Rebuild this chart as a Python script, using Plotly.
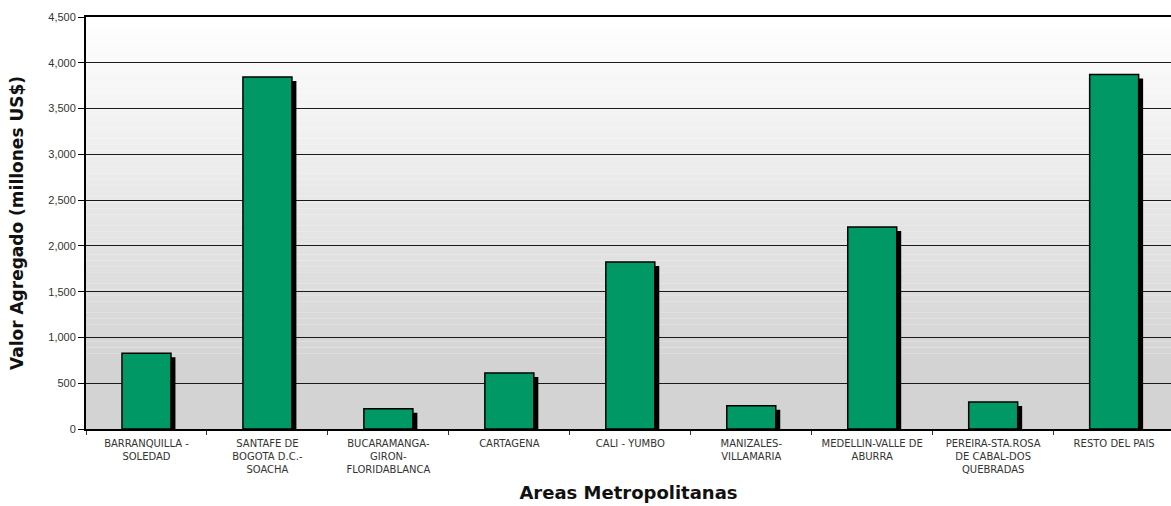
import plotly.graph_objects as go

categories = [
    "BARRANQUILLA -<br>SOLEDAD",
    "SANTAFE DE<br>BOGOTA D.C.-<br>SOACHA",
    "BUCARAMANGA-<br>GIRON-<br>FLORIDABLANCA",
    "CARTAGENA",
    "CALI - YUMBO",
    "MANIZALES-<br>VILLAMARIA",
    "MEDELLIN-VALLE DE<br>ABURRA",
    "PEREIRA-STA.ROSA<br>DE CABAL-DOS<br>QUEBRADAS",
    "RESTO DEL PAIS",
]
values = [827, 3845, 222, 612, 1825, 255, 2207, 295, 3872]

y_ticks = list(range(0, 4501, 500))

BAR_W = 0.405
SHADOW_DX = 0.037      # in category units
SHADOW_DY = 44         # in data units

fig = go.Figure()

# drop shadow
fig.add_trace(go.Bar(
    x=categories,
    y=[max(v - SHADOW_DY, 0) for v in values],
    width=BAR_W,
    offset=-BAR_W / 2 + SHADOW_DX,
    marker=dict(color="black", line=dict(width=0)),
    hoverinfo="skip",
    showlegend=False,
))
# main bars
fig.add_trace(go.Bar(
    x=categories,
    y=values,
    width=BAR_W,
    offset=-BAR_W / 2,
    marker=dict(color="#009966", line=dict(color="black", width=1.5)),
    showlegend=False,
))

# vertical gradient background (white -> light gray)
shapes = []
n = 60
top, flat = 4500, 700
for i in range(n):
    y1 = top - (top - flat) * i / n
    y0 = top - (top - flat) * (i + 1) / n
    t = (i + 0.5) / n
    c = int(round(255 - (255 - 211) * t))
    shapes.append(dict(type="rect", xref="paper", yref="y", x0=0, x1=1, y0=y0, y1=y1,
                       fillcolor=f"rgb({c},{c},{c})", line=dict(width=0), layer="below"))
shapes.append(dict(type="rect", xref="paper", yref="y", x0=0, x1=1, y0=0, y1=flat,
                   fillcolor="rgb(211,211,211)", line=dict(width=0), layer="below"))

fig.update_layout(
    width=1171, height=506,
    margin=dict(l=86, r=0, t=17, b=77),
    paper_bgcolor="white",
    plot_bgcolor="white",
    barmode="overlay",
    shapes=shapes,
    font=dict(family="Liberation Sans, Arial", color="#222"),
)

fig.update_xaxes(
    range=[-0.5, 8.47],
    tickson="boundaries",
    ticks="outside", ticklen=4, tickcolor="#333", tickwidth=1,
    ticklabelstandoff=4,
    showline=True, mirror=True, linecolor="black", linewidth=2,
    showgrid=False,
    tickfont=dict(family="DejaVu Sans", size=10, color="#333"),
    title=dict(text="Areas Metropolitanas",
               font=dict(family="DejaVu Sans", size=18, color="#111", weight="bold"),
               standoff=12),
    automargin=False,
)
fig.update_yaxes(
    range=[0, 4500],
    tickvals=y_ticks,
    tickformat=",",
    ticks="outside", ticklen=6, tickcolor="black", tickwidth=1,
    showline=True, linecolor="black", linewidth=2,
    showgrid=True, gridcolor="#1a1a1a", gridwidth=1,
    zeroline=False,
    tickfont=dict(family="Liberation Sans", size=11, color="#333"),
    title=dict(text="Valor Agregado (millones US$)",
               font=dict(family="DejaVu Sans", size=17, color="#111", weight="bold"),
               standoff=20),
    automargin=False,
)

fig.write_html("out.html")
